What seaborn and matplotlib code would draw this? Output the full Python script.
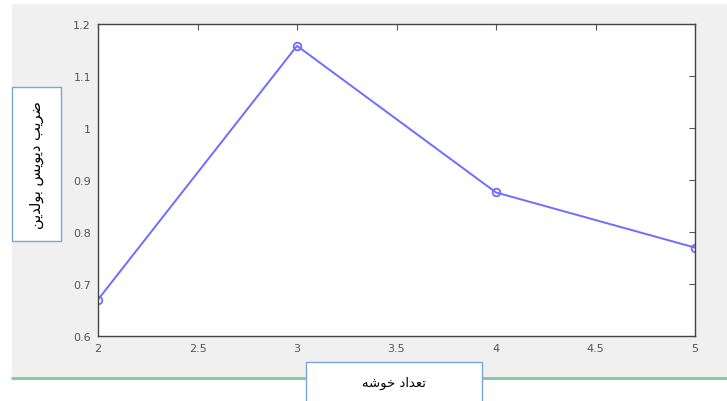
import matplotlib
matplotlib.use('Agg')
import matplotlib.pyplot as plt
from matplotlib.patches import Rectangle
from matplotlib.lines import Line2D
import seaborn as sns
import pandas as pd

# data
clusters = [2, 3, 4, 5]
db_index = [0.67, 1.158, 0.876, 0.77]
x_ticks = [2, 2.5, 3, 3.5, 4, 4.5, 5]
x_tick_labels = ['2', '2.5', '3', '3.5', '4', '4.5', '5']
y_ticks = [0.6, 0.7, 0.8, 0.9, 1.0, 1.1, 1.2]
y_tick_labels = ['0.6', '0.7', '0.8', '0.9', '1', '1.1', '1.2']

# Persian labels, written in presentation forms and visual order
# because matplotlib does not shape arabic script
# "ضریب دیویس بولدین"
ylabel_logical = ('\uFEBF\uFEAE\uFEF3\uFE90 '
                  '\uFEA9\uFEF3\uFEEE\uFEF3\uFEB2 '
                  '\uFE91\uFEEE\uFEDF\uFEAA\uFEF3\uFEE6')
# "تعداد خوشه"
xlabel_logical = '\uFE97\uFECC\uFEAA\uFE8D\uFEA9 \uFEA7\uFEEE\uFEB7\uFEEA'
ylabel_text = ylabel_logical[::-1]
xlabel_text = xlabel_logical[::-1]

sns.set_style('white')
plt.rcParams['font.family'] = ['DejaVu Sans']

W, H = 727, 402
fig = plt.figure(figsize=(W / 100, H / 100), dpi=100, facecolor='white')


def fx(px):
    return px / W


def fy(py):
    return 1 - py / H


# gray window background and green separator
fig.add_artist(Rectangle((fx(12), fy(378)), fx(727 - 12), (378 - 5) / H,
                         transform=fig.transFigure, facecolor='#f0f0f0',
                         edgecolor='none', zorder=0))
fig.add_artist(Line2D([fx(12), 1], [fy(379), fy(379)], transform=fig.transFigure,
                      color='#7cc7a6', lw=2, zorder=1))

ax = fig.add_axes([fx(98), fy(337), (695 - 98) / W, (337 - 25) / H])
ax.set_facecolor('white')

df = pd.DataFrame({'k': clusters, 'db': db_index})
sns.lineplot(data=df, x='k', y='db', ax=ax, color='#6f6cff', lw=1.4,
             marker='o', markersize=5.5, markerfacecolor='none',
             markeredgecolor='#6f6cff', markeredgewidth=1.3)

ax.set_xlim(2, 5)
ax.set_ylim(0.6, 1.2)
ax.set_xticks(x_ticks)
ax.set_xticklabels(x_tick_labels)
ax.set_yticks(y_ticks)
ax.set_yticklabels(y_tick_labels)
ax.set_xlabel('')
ax.set_ylabel('')
ax.tick_params(direction='in', length=4, width=0.8, colors='#555555',
               labelsize=8, top=True, right=True, pad=5)
for s in ax.spines.values():
    s.set_visible(True)
    s.set_color('#444444')
    s.set_linewidth(1.0)

# boxed axis labels
fig.add_artist(Rectangle((fx(12), fy(242)), (61 - 12) / W, (242 - 88) / H,
                         transform=fig.transFigure, facecolor='white',
                         edgecolor='#7aa6d6', lw=1, zorder=3))
fig.text(fx(36.5), fy(165), ylabel_text, rotation=90, ha='center', va='center',
         fontsize=10.5, color='black', zorder=4)

fig.add_artist(Rectangle((fx(306), fy(410)), (482 - 306) / W, (410 - 363) / H,
                         transform=fig.transFigure, facecolor='white',
                         edgecolor='#7aa6d6', lw=1, zorder=3))
fig.text(fx(394), fy(383), xlabel_text, ha='center', va='center',
         fontsize=9.5, color='black', zorder=4)

fig.savefig('out.png', dpi=100)
